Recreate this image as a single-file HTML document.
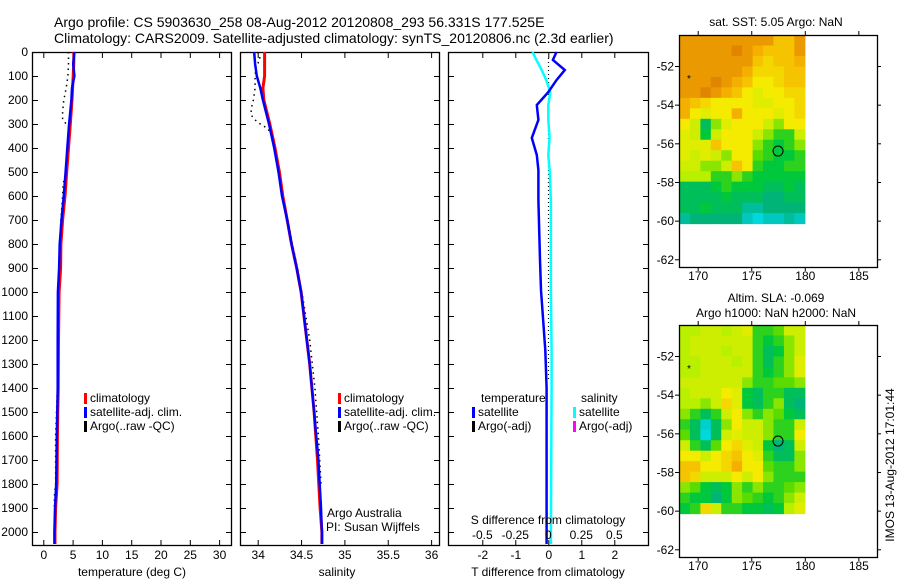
<!DOCTYPE html>
<html><head><meta charset="utf-8"><style>
html,body{margin:0;padding:0;background:#fff;}
svg{display:block;font-family:"Liberation Sans",sans-serif;}
text{fill:#000;}
</style></head><body>
<svg id="c" width="900" height="580" viewBox="0 0 900 580" xmlns="http://www.w3.org/2000/svg">
<g id="root"></g>
</svg>
<script>
// ---- data ----
const tDepth = [0,50,100,150,200,300,400,500,600,700,800,900,1000,1200,1400,1600,1800,1900,2000,2050];
const tClim  = [5.2,5.2,5.1,5.0,4.9,4.6,4.3,4.0,3.7,3.3,3.0,2.95,2.7,2.6,2.55,2.4,2.35,2.1,2.0,2.0];
const tSat   = [5.3,5.1,5.3,4.9,4.8,4.4,4.1,3.8,3.5,3.1,2.8,2.7,2.5,2.45,2.45,2.3,2.2,2.0,1.9,1.9];
const argoTDepth = [0,50,100,150,200,250,280,320,400,500,550,600,700,800,900,1000,1200,1400,1600,1800,1850,1900];
const argoT = [4.3,4.3,4.2,3.9,3.5,3.3,3.3,4.5,4.1,3.8,3.4,3.3,3.0,2.8,2.7,2.5,2.45,2.4,2.1,2.1,1.9,1.9];
const sDepth = [0,50,100,150,200,300,400,500,600,700,800,900,1000,1300,1500,1700,1900,2000,2050];
const sClim  = [34.08,34.08,34.08,34.06,34.07,34.14,34.2,34.25,34.29,34.34,34.39,34.45,34.5,34.6,34.65,34.69,34.72,34.74,34.74];
const sSat   = [33.96,33.97,33.99,34.03,34.06,34.13,34.19,34.24,34.28,34.34,34.39,34.45,34.5,34.6,34.65,34.7,34.73,34.74,34.74];
const argoSDepth = [0,30,60,100,150,200,230,260,280,300,320,350,400,500,600,700,800,900,1000,1200,1400,1600,1800];
const argoS = [34.0,34.03,33.98,33.97,33.97,33.95,33.93,33.92,33.96,34.03,34.12,34.16,34.2,34.24,34.28,34.35,34.4,34.46,34.51,34.6,34.66,34.7,34.73];
const dDepth = [0,33,75,117,167,221,283,358,429,492,617,867,992,1242,1400,2000,2050];
const tDiff  = [0.25,0.14,0.5,0.25,0.0,-0.35,-0.3,-0.5,-0.35,-0.3,-0.3,-0.25,-0.22,-0.09,-0.05,-0.05,-0.05];
const sDiff  = [-0.12,-0.09,-0.05,-0.015,0.015,0.0,0.0,0.01,0.0,0.01,0.02,0.02,0.02,0.025,0.025,0.02,0.02];
const depthTicks = [0,100,200,300,400,500,600,700,800,900,1000,1100,1200,1300,1400,1500,1600,1700,1800,1900,2000];
const tempTicks = [0,5,10,15,20,25,30];
const salTicks = [34,34.5,35,35.5,36];
const tdTicks = [-2,-1,0,1,2];
const sdTicks = [-0.5,-0.25,0,0.25,0.5];
const lonTicks = [170,175,180,185];
const latTicks = [-52,-54,-56,-58,-60,-62];
const sstGrid = [
[9,9,9,9,9,9,9,9,9,8,8,9],
[9,9,9,9,9,9.5,9,8.5,8,8,8,9],
[9,9,9,9,9,9,9,8,7.5,8,8,8.5],
[9,9,9,9,9,9,8.5,7.5,7.5,7.5,8,8],
[9,9,9,9.5,9,8.5,8,7,7,7.5,8,8],
[9,9,9.5,9,8.5,8,7,6.5,7,7,7.5,7.5],
[8.5,8,7.5,7,7,7,7,6.5,6.5,7,7,7.5],
[8.5,7,6.5,7,7,8.5,7,7,7,6.5,7,7.5],
[7,6,3,5,6.5,7,7,7,6,5,7,7],
[6.5,6,3.5,6,7,7,7,6,5,4,4,6],
[6.5,6.5,6.5,8,7,7,7,5,4,3.5,4,5],
[6.5,6,6.5,6,5,7,7,4.5,4,3.5,3.5,4],
[6,6,5,5,6,8,7,4,3.5,3.5,4,4],
[5.5,5.5,5.5,4,4,5,4,3.5,3.5,3.5,3.5,3.5],
[3,3,3,3.5,4,3.5,3.5,3.5,3,3,3.5,3],
[3,3,3,3,3.5,3,3,3,2.5,2.5,3,3],
[3,3,3.5,3,3,3,2,2,2.5,2.5,2.5,2.5],
[2,2.5,2.5,2.5,2.5,2.5,1.5,0.5,1.5,1.5,2,1.5]];
const slaGrid = [
[5.5,5.5,6,6,5.5,6,6.5,4,4,4.5,6,6],
[5.5,6,6,6,6,6,6,4,3.5,4,5,6],
[5.5,6,6,6,5.5,6,6,4,3,3.5,5,6],
[5.5,5.5,6,6,6,5.5,6,4,3,4,5,6.5],
[5.5,5.5,6,6,6,6,6,4,3.5,4,5,6.5],
[6,6,6,6,6,6,5,4,4,4.5,4.5,5],
[5.5,6,6,6,7,6.5,3.5,3,4,4,3,3],
[5.5,5.5,5,6,7.5,6.5,3.5,3,4,5,3,2.5],
[5,4,3,4,6,7,5,4,5,4.5,3.5,3],
[4,3,1,3,5,7,6,6,5,4,4,6],
[4.5,3,0.5,3,6,6.5,6,6,5,4,4,7],
[6,4,3,4.5,7,7.5,6.5,6,3.5,2.5,3,6],
[7,7,6,7,7.5,8,7,6.5,4,3,3,5],
[8,8,7,7,7.5,8.5,7,7,4.5,4,4,5],
[8,7.5,6,6,6,7,6,7,5,4,4,4],
[5,4.5,3.5,3,3.5,5,4,5,4,4,4.5,5],
[4,3.5,3.5,2.5,3.5,5,4.5,4,3.5,4,5,6],
[3.5,4,7.5,6,4,4,3.5,3.5,3,3.5,5.5,6.5]];
const argoLon = 177.5, argoLat = -56.4;

// ---- helpers ----
const NS = "http://www.w3.org/2000/svg";
const root = document.getElementById('root');
function mk(tag, attrs, parent){ const e=document.createElementNS(NS,tag); for(const k in attrs) e.setAttribute(k,attrs[k]); (parent||root).appendChild(e); return e; }
function txt(x,y,s,anchor,size,parent){ const t=mk('text',{x:x,y:y,'font-size':size||12,'text-anchor':anchor||'start'},parent); t.textContent=s; return t; }

const PTOP=52, PBOT=545;
const yD = d => PTOP + d*0.24;
const xT = v => 43.3 + v*5.86;
const xS = v => 257.7 + (v-34)*86.7;
const xTD = v => 548.3 + v*33;
const xSD = v => 548.3 + v*132;

function panel(x0,x1,name){
  const g=mk('g',{});
  
  
  const r=mk('rect',{x:x0+0.5,y:PTOP+0.5,width:x1-x0,height:PBOT-PTOP,fill:'none',stroke:'#000','stroke-width':1.3},g);
  
  
  depthTicks.forEach(d=>{ const y=yD(d)+0.5;
    mk('line',{x1:x0,x2:x0+6,y1:y,y2:y,stroke:'#000'},g);
    mk('line',{x1:x1-5,x2:x1+1,y1:y,y2:y,stroke:'#000'},g); });
  return g;
}
function xticks(g,ticks,fx,labelY,fmt){
  ticks.forEach(v=>{ const x=fx(v)+0.5;
    mk('line',{x1:x,x2:x,y1:PTOP,y2:PTOP+6,stroke:'#000'},g);
    mk('line',{x1:x,x2:x,y1:PBOT-5,y2:PBOT+1,stroke:'#000'},g);
    if(labelY){ const t=txt(x,labelY,fmt?fmt(v):String(v),'middle',12,g);
      
       } });
}
function line(g,xs,ds,fx,color,w,dash,name){
  const pts=xs.map((v,i)=>fx(v).toFixed(1)+','+yD(ds[i]).toFixed(1)).join(' ');
  const p=mk('polyline',{points:pts,fill:'none',stroke:color,'stroke-width':w,'stroke-dasharray':dash||'none'},g);
  
  
  return p;
}
function legend(g,x,y,items){
  items.forEach((it,i)=>{
    if(it.c){ const b=mk('rect',{x:x,y:y+i*14-9,width:3,height:11,fill:it.c},g);
      
       }
    const t=txt(x+6,y+i*14,it.t,'start',12,g);
    
    
  });
}

// titles
let t1=txt(54,27,'Argo profile: CS 5903630_258 08-Aug-2012 20120808_293 56.331S 177.525E','start',14);
 
let t2=txt(54,43,'Climatology: CARS2009. Satellite-adjusted climatology: synTS_20120806.nc (2.3d earlier)','start',14);
 

// panel 1 temperature
const g1=panel(32,231,'temperature-panel');
depthTicks.forEach(d=>{ const t=txt(28,yD(d)+4,String(d),'end',12,g1);
    });
xticks(g1,tempTicks,xT,559);
let xl1=txt(132,576,'temperature (deg C)','middle',12,g1);
 
line(g1,argoT,argoTDepth,xT,'#000',1.5,'1.5,4','argo-temperature');
line(g1,tClim,tDepth,xT,'#f00',3,null,'climatology-temperature');
line(g1,tSat,tDepth,xT,'#00f',2.5,null,'satellite-temperature');
legend(g1,84,402,[{c:'#f00',t:'climatology'},{c:'#00f',t:'satellite-adj. clim.'},{c:'#000',t:'Argo(..raw -QC)'}]);

// panel 2 salinity
const g2=panel(240,439,'salinity-panel');
xticks(g2,salTicks,xS,559);
let xl2=txt(337,576,'salinity','middle',12,g2);
 
line(g2,argoS,argoSDepth,xS,'#000',1.5,'1.5,4','argo-salinity');
line(g2,sClim,sDepth,xS,'#f00',3,null,'climatology-salinity');
line(g2,sSat,sDepth,xS,'#00f',2.5,null,'satellite-salinity');
legend(g2,338,402,[{c:'#f00',t:'climatology'},{c:'#00f',t:'satellite-adj. clim.'},{c:'#000',t:'Argo(..raw -QC)'}]);
let aa=txt(327,517,'Argo Australia','start',12,g2);  
let pi=txt(326,531,'PI: Susan Wijffels','start',12,g2);  

// panel 3 differences
const g3=panel(448,648,'difference-panel');
xticks(g3,tdTicks,xTD,559);
mk('line',{x1:548.5,x2:548.5,y1:58,y2:380,stroke:'#000','stroke-width':1.2,'stroke-dasharray':'1,3'},g3);
line(g3,sDiff,dDepth,xSD,'#0ff',2.5,null,'salinity-difference');
line(g3,tDiff,dDepth,xTD,'#00f',2.5,null,'temperature-difference');
let tl=txt(481,402,'temperature','start',12,g3);  
let sl=txt(581,402,'salinity','start',12,g3);  
legend(g3,472,416,[{c:'#00f',t:'satellite'},{c:'#000',t:'Argo(-adj)'}]);
legend(g3,573,416,[{c:'#0ff',t:'satellite'},{c:'#f0f',t:'Argo(-adj)'}]);
let sdt=txt(548,524,'S difference from climatology','middle',12,g3);  
sdTicks.forEach(v=>{ const t=txt(xSD(v),539,String(v),'middle',12,g3);   });
let tdt=txt(548,576,'T difference from climatology','middle',12,g3);  

// maps
const MX0=679, MX1=877;
const xLon = v => 697.7 + (v-170)*10.71;
function stops(v){
  const s=[[0,[0,225,235]],[1.5,[0,200,190]],[2.5,[0,180,120]],[3.5,[0,200,60]],[4.5,[90,220,0]],[5.5,[185,240,0]],[7,[245,235,0]],[8.5,[245,175,0]],[10,[215,110,0]]];
  for(let i=0;i<s.length-1;i++){ if(v<=s[i+1][0]){ const f=(v-s[i][0])/(s[i+1][0]-s[i][0]); const a=s[i][1],b=s[i+1][1];
    return 'rgb('+a.map((c,k)=>Math.round(c+(b[k]-c)*Math.max(0,f))).join(',')+')'; } }
  return 'rgb(215,110,0)';
}
function map(top,bot,grid,name,titles){
  const g=mk('g',{});
  
  
  const yLat = v => top + 31 + (-52 - v)*19.33;
  const lon0=168.3, lon1=180, lat0=-52+31/19.33, lat1=-60.15;
  const rows=grid.length, cols=grid[0].length;
  const cw=(xLon(lon1)-xLon(lon0))/cols, ch=(yLat(lat1)-yLat(lat0))/rows;
  grid.forEach((row,r)=>row.forEach((v,c)=>{
    const cell=mk('rect',{x:(xLon(lon0)+c*cw).toFixed(2),y:(yLat(lat0)+r*ch).toFixed(2),width:(cw+0.6).toFixed(2),height:(ch+0.6).toFixed(2),fill:stops(v)},g);
    
    
  }));
  const fr=mk('rect',{x:MX0+0.5,y:top+0.5,width:MX1-MX0,height:bot-top,fill:'none',stroke:'#000','stroke-width':1.3},g);
   
  lonTicks.forEach(v=>{ const x=xLon(v)+0.5;
    mk('line',{x1:x,x2:x,y1:top,y2:top-4,stroke:'#000'},g);
    mk('line',{x1:x,x2:x,y1:bot,y2:bot+4,stroke:'#000'},g);
    const t=txt(x,bot+13,String(v),'middle',12,g);   });
  latTicks.forEach(v=>{ const y=yLat(v)+0.5;
    mk('line',{x1:MX0-4,x2:MX0,y1:y,y2:y,stroke:'#000'},g);
    mk('line',{x1:MX1,x2:MX1+4,y1:y,y2:y,stroke:'#000'},g);
    const t=txt(MX0-5,y+4,String(v),'end',12,g);   });
  const c=mk('circle',{cx:xLon(argoLon),cy:yLat(argoLat),r:5,fill:'none',stroke:'#000','stroke-width':1},g);
   
  const st=txt(689,top+47,'*','middle',10,g);  
  titles.forEach((s,i)=>{ const t=txt(776,top-23+ (titles.length===1?14:i*15) ,s,'middle',12,g);   });
}
map(35,267,sstGrid,'sst-map',['sat. SST: 5.05 Argo: NaN']);
map(325,557,slaGrid,'sla-map',['Altim. SLA: -0.069','Argo h1000: NaN h2000: NaN']);
let ts=txt(0,0,'IMOS 13-Aug-2012 17:01:44','middle',12);
ts.setAttribute('transform','translate(894,465) rotate(-90)');
 
</script>
</body></html>
